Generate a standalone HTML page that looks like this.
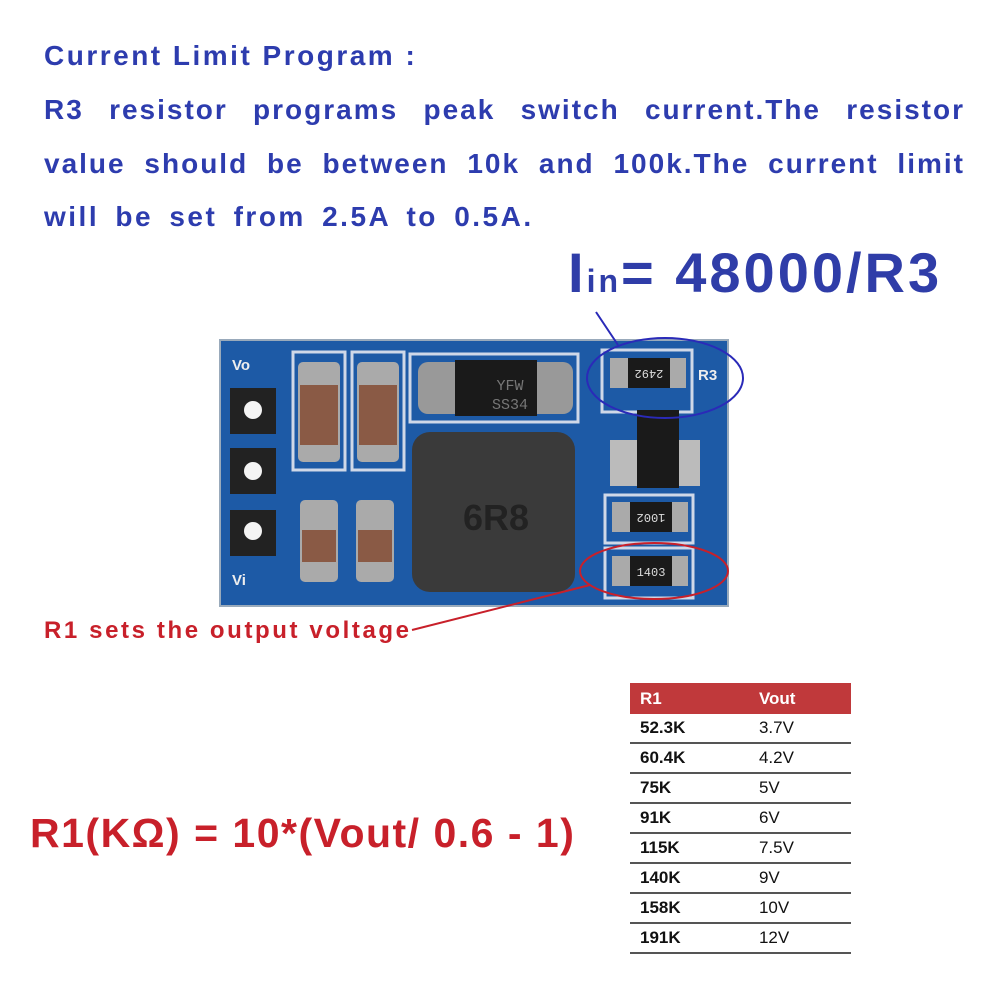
<!DOCTYPE html>
<html><head><meta charset="utf-8"><style>
body{margin:0;width:1001px;height:1001px;background:#fff;position:relative;overflow:hidden;font-family:"Liberation Sans",sans-serif}
.b{position:absolute;font-weight:bold;color:#2d3cae;font-size:28px;white-space:nowrap;letter-spacing:2.5px}
.j{position:absolute;left:44px;width:921px;font-weight:bold;color:#2d3cae;font-size:28px;text-align:justify;text-align-last:justify;white-space:nowrap;letter-spacing:2px}
table{position:absolute;left:630px;top:683px;width:221px;border-collapse:collapse;font-size:17px}
td{height:28px;border-bottom:2px solid #555;padding:0 0 0 10px;color:#111}
th{height:29px;background:#c0393b;color:#fff;text-align:left;padding-left:10px;font-weight:bold;font-size:17px}
</style></head><body>
<div class="b" style="left:44px;top:40px">Current Limit Program :</div>
<div class="j" style="top:94px">R3 resistor programs peak switch current.The resistor</div>
<div class="j" style="top:148px">value should be between 10k and 100k.The current limit</div>
<div class="b" style="left:44px;top:201px;word-spacing:6px">will be set from 2.5A to 0.5A.</div>
<div class="b" style="left:568px;top:240px;font-size:56px;color:#2f3da8;letter-spacing:3px">I<span style="font-size:32px">in</span>= 48000/R3</div>

<svg style="position:absolute;left:0;top:0" width="1001" height="1001">
<rect x="220" y="340" width="508" height="266" fill="#1d5aa6"/>
<rect x="220" y="340" width="508" height="266" fill="none" stroke="#9ab" stroke-width="2"/>
<g fill="#222"><rect x="230" y="388" width="46" height="46"/><rect x="230" y="448" width="46" height="46"/><rect x="230" y="510" width="46" height="46"/></g>
<g fill="#f4f4f4"><circle cx="253" cy="410" r="9"/><circle cx="253" cy="471" r="9"/><circle cx="253" cy="531" r="9"/></g>
<g fill="none" stroke="#cfd8e8" stroke-width="3"><rect x="293" y="352" width="52" height="118"/><rect x="352" y="352" width="52" height="118"/><rect x="410" y="354" width="168" height="68"/><rect x="602" y="350" width="90" height="62"/><rect x="605" y="495" width="88" height="48"/><rect x="605" y="548" width="88" height="50"/></g>
<g fill="#aaa"><rect x="298" y="362" width="42" height="100" rx="5"/><rect x="357" y="362" width="42" height="100" rx="5"/><rect x="300" y="500" width="38" height="82" rx="5"/><rect x="356" y="500" width="38" height="82" rx="5"/></g>
<g fill="#8a5a45"><rect x="300" y="385" width="38" height="60"/><rect x="359" y="385" width="38" height="60"/><rect x="302" y="530" width="34" height="32"/><rect x="358" y="530" width="34" height="32"/></g>
<rect x="418" y="362" width="155" height="52" fill="#999" rx="10"/>
<rect x="455" y="360" width="82" height="56" fill="#1a1a1a"/>
<text x="510" y="390" fill="#777" font-size="15" font-family="Liberation Mono" text-anchor="middle">YFW</text>
<text x="510" y="409" fill="#777" font-size="15" font-family="Liberation Mono" text-anchor="middle">SS34</text>
<rect x="412" y="432" width="163" height="160" rx="18" fill="#3a3a3a"/>
<text x="496" y="530" fill="#222" font-size="36" font-weight="bold" text-anchor="middle">6R8</text>
<rect x="610" y="440" width="90" height="46" fill="#bbb"/>
<rect x="637" y="410" width="42" height="78" fill="#1a1a1a"/>
<g fill="#aaa"><rect x="610" y="358" width="76" height="30"/><rect x="612" y="502" width="76" height="30"/><rect x="612" y="556" width="76" height="30"/></g>
<g fill="#1a1a1a"><rect x="628" y="358" width="42" height="30"/><rect x="630" y="502" width="42" height="30"/><rect x="630" y="556" width="42" height="30"/></g>
<g fill="#ddd" font-size="12" text-anchor="middle" font-family="Liberation Mono"><text x="649" y="378" transform="rotate(180 649 374)">2492</text><text x="651" y="522" transform="rotate(180 651 518)">1002</text><text x="651" y="576">1403</text></g>
<g fill="#eee" font-size="15" font-weight="bold"><text x="698" y="380">R3</text><text x="232" y="370">Vo</text><text x="232" y="585">Vi</text></g>
<ellipse cx="665" cy="378" rx="78" ry="40" fill="none" stroke="#2a2ab8" stroke-width="2"/>
<line x1="596" y1="312" x2="618" y2="345" stroke="#2a2ab8" stroke-width="2"/>
<ellipse cx="654" cy="571" rx="74" ry="28" fill="none" stroke="#c8202a" stroke-width="2"/>
<line x1="412" y1="630" x2="590" y2="585" stroke="#c8202a" stroke-width="2"/>
</svg>

<div class="b" style="left:44px;top:617px;font-size:24px;color:#c8202a;letter-spacing:2.6px">R1 sets the output voltage</div>
<div class="b" style="left:30px;top:810px;font-size:41px;color:#c8202a;letter-spacing:1.5px">R1(KΩ) = 10*(Vout/ 0.6 - 1)</div>

<table>
<tr><th>R1</th><th>Vout</th></tr>
<tr><td><b>52.3K</b></td><td>3.7V</td></tr>
<tr><td><b>60.4K</b></td><td>4.2V</td></tr>
<tr><td><b>75K</b></td><td>5V</td></tr>
<tr><td><b>91K</b></td><td>6V</td></tr>
<tr><td><b>115K</b></td><td>7.5V</td></tr>
<tr><td><b>140K</b></td><td>9V</td></tr>
<tr><td><b>158K</b></td><td>10V</td></tr>
<tr><td><b>191K</b></td><td>12V</td></tr>
</table>
</body></html>
